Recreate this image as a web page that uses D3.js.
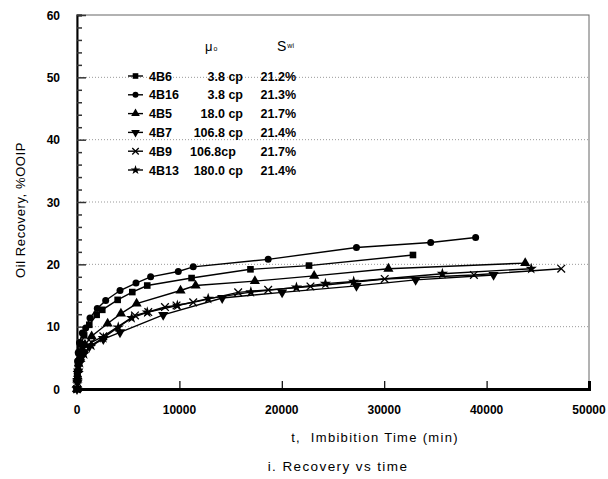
<!DOCTYPE html>
<html><head><meta charset="utf-8">
<script src="https://cdn.jsdelivr.net/npm/d3@7"></script>
<style>body{margin:0;background:#fff}svg{display:block}text{font-family:"Liberation Sans",Arial,sans-serif}</style>
</head><body><svg id="c" width="608" height="479"></svg>
<script>
const seriesNames = ["4B6","4B16","4B5","4B7","4B9","4B13"];
const viscosity = ["3.8 cp","3.8 cp","18.0 cp","106.8 cp","106.8cp","180.0 cp"];
const swi = ["21.2%","21.3%","21.7%","21.4%","21.7%","21.4%"];
const markers = ["square","circle","triangleUp","triangleDown","cross","star"];
const t4B6  = [0,30,90,200,400,700,1200,1920,2470,3970,5400,6860,11190,16940,22660,32810];
const r4B6  = [0,2,4,5.8,7.2,8.6,10.3,11.9,12.7,14.3,15.55,16.6,17.8,19.2,19.8,21.5];
const t4B16 = [0,20,60,120,240,520,850,1270,1980,2800,4200,5760,7190,9890,11350,18670,27290,34540,38930];
const r4B16 = [0,2.5,4.5,5.8,7.4,9.0,9.8,11.4,12.9,14.2,15.8,17.0,18.0,18.85,19.6,20.8,22.7,23.5,24.3];
const t4B5  = [0,30,100,250,500,780,1430,2990,4290,5820,10110,11580,17370,23160,30410,43770];
const r4B5  = [0,1.5,3.2,5,6.3,7.1,8.45,10.5,12.1,13.7,15.8,16.6,17.3,18.15,19.3,20.2];
const t4B7  = [0,40,120,300,600,1200,2570,4200,8420,14180,20030,27290,33070,40680];
const r4B7  = [0,1.3,2.8,4.3,5.5,6.8,8.0,9.1,11.9,14.6,15.5,16.55,17.5,18.3];
const t4B9  = [0,40,120,300,700,1400,2570,5660,6960,8590,9720,11350,15740,18670,22800,30050,38760,47290];
const r4B9  = [0,1.5,3.2,5,6.5,7.5,8.45,11.8,12.35,13.15,13.4,13.9,15.5,15.9,16.45,17.65,18.3,19.3];
const t4B13 = [0,40,120,300,700,1400,2570,4030,5340,6860,9800,12810,16980,21430,24260,27020,35680,44360];
const r4B13 = [0,1.2,2.6,4.2,5.6,7,8.2,9.9,11.4,12.3,13.4,14.5,15.55,16.3,16.9,17.25,18.5,19.3];
const xTicks = [0,10000,20000,30000,40000,50000];
const yTicks = [0,10,20,30,40,50,60];

const times = [t4B6,t4B16,t4B5,t4B7,t4B9,t4B13];
const recs  = [r4B6,r4B16,r4B5,r4B7,r4B9,r4B13];

const svg = d3.select("#c");
const L=77,R=589,T=15,B=389;
const x = d3.scaleLinear().domain([0,50000]).range([L,R]);
const y = d3.scaleLinear().domain([0,60]).range([B,T]);

// gridlines
svg.append("g").selectAll("line").data(yTicks.filter(v=>v>0&&v<60)).join("line")
  .attr("x1",L).attr("x2",R).attr("y1",d=>y(d)).attr("y2",d=>y(d))
  .attr("stroke","#999").attr("stroke-width",1).attr("stroke-dasharray","1,2");

// frame
svg.append("rect").attr("x",L).attr("y",T).attr("width",R-L).attr("height",B-T)
  .attr("fill","none").attr("stroke","#666").attr("stroke-width",1);

// y axis
const yAxis = d3.axisRight(y).tickValues(d3.range(0,61,2)).tickSize(5).tickFormat("");
const gy = svg.append("g").attr("transform",`translate(${L},0)`).call(yAxis);
gy.select(".domain").attr("stroke","#000").attr("stroke-width",2);
gy.selectAll(".tick line").attr("stroke","#333").attr("stroke-width",1.5)
  .attr("x2",d=>d%10===0?9:5);
svg.append("g").selectAll("text").data(yTicks).join("text")
  .attr("x",60).attr("y",d=>y(d)+4.5).attr("text-anchor","end")
  .attr("font-size",12).attr("font-weight","bold").text(d=>d);

// x axis
const xAxis = d3.axisTop(x).tickValues(xTicks).tickSize(8).tickFormat("");
const gx = svg.append("g").attr("transform",`translate(0,${B})`).call(xAxis);
gx.select(".domain").attr("stroke","#000").attr("stroke-width",3);
gx.selectAll(".tick line").attr("stroke","#000").attr("stroke-width",1.2);
svg.append("g").selectAll("text").data(xTicks).join("text")
  .attr("x",d=>x(d)).attr("y",414).attr("text-anchor","middle")
  .attr("font-size",12).attr("font-weight","bold").text(d=>d);

// titles
svg.append("text").attr("x",375).attr("y",442).attr("text-anchor","middle")
  .attr("font-size",13).attr("letter-spacing",1.3).attr("xml:space","preserve").text("t,  Imbibition Time (min)");
svg.append("text").attr("x",338).attr("y",471).attr("text-anchor","middle")
  .attr("font-size",13.5).attr("letter-spacing",1.4).text("i. Recovery vs time");
svg.append("text").attr("transform","translate(25,210) rotate(-90)").attr("text-anchor","middle")
  .attr("font-size",13).attr("letter-spacing",0.6).text("Oil Recovery, %OOIP");

// marker drawing
function drawMarker(g, type, cx, cy, s){
  const k = s||1;
  if(type==="square") g.append("rect").attr("x",cx-3.3*k).attr("y",cy-3.3*k).attr("width",6.6*k).attr("height",6.6*k).attr("fill","#000");
  else if(type==="circle") g.append("circle").attr("cx",cx).attr("cy",cy).attr("r",3.5*k).attr("fill","#000");
  else if(type==="triangleUp") g.append("path").attr("d",d3.symbol(d3.symbolTriangle,45*k*k)()).attr("transform",`translate(${cx},${cy})`).attr("fill","#000");
  else if(type==="triangleDown") g.append("path").attr("d",d3.symbol(d3.symbolTriangle,45*k*k)()).attr("transform",`translate(${cx},${cy}) rotate(180)`).attr("fill","#000");
  else if(type==="cross") g.append("path").attr("d",d3.symbol(d3.symbolX,40*k*k)()).attr("transform",`translate(${cx},${cy})`).attr("fill","none").attr("stroke","#000").attr("stroke-width",1.3);
  else if(type==="star") g.append("path").attr("d",d3.symbol(d3.symbolStar,40*k*k)()).attr("transform",`translate(${cx},${cy})`).attr("fill","#000");
}

const line = d3.line().x(d=>x(d[0])).y(d=>y(d[1]));
const plot = svg.append("g");
seriesNames.forEach((n,i)=>{
  const pts = times[i].map((t,j)=>[t,recs[i][j]]);
  plot.append("path").datum(pts).attr("d",line).attr("fill","none").attr("stroke","#000").attr("stroke-width",1.4);
  const mg = plot.append("g");
  pts.forEach(p=>drawMarker(mg, markers[i], x(p[0]), y(p[1])));
});

// legend
const lg = svg.append("g");
const hdr = lg.append("text").attr("x",205).attr("y",51).attr("font-size",13);
hdr.append("tspan").text("μ");
hdr.append("tspan").attr("font-size",7).attr("dx",1).text("o");
const hdr2 = lg.append("text").attr("x",277).attr("y",51).attr("font-size",14);
hdr2.append("tspan").text("S");
hdr2.append("tspan").attr("font-size",7).attr("dy",-3).attr("dx",1).text("wi");
const rowY = d3.scaleLinear().domain([0,5]).range([78,172]);
seriesNames.forEach((n,i)=>{
  const yy = rowY(i);
  lg.append("line").attr("x1",128).attr("x2",143).attr("y1",yy-2).attr("y2",yy-2).attr("stroke","#000").attr("stroke-width",1.4);
  drawMarker(lg, markers[i], 135.5, yy-2, 0.85);
  lg.append("text").attr("x",149).attr("y",yy+2.5).attr("font-size",12.5).attr("font-weight","bold").text(n);
  lg.append("text").attr("x",i===4?190:243).attr("text-anchor",i===4?"start":"end").attr("y",yy+2.5).attr("font-size",12.5).attr("font-weight","bold").text(viscosity[i]);
  lg.append("text").attr("x",296).attr("y",yy+2.5).attr("text-anchor","end").attr("font-size",12.5).attr("font-weight","bold").text(swi[i]);
});
</script></body></html>
